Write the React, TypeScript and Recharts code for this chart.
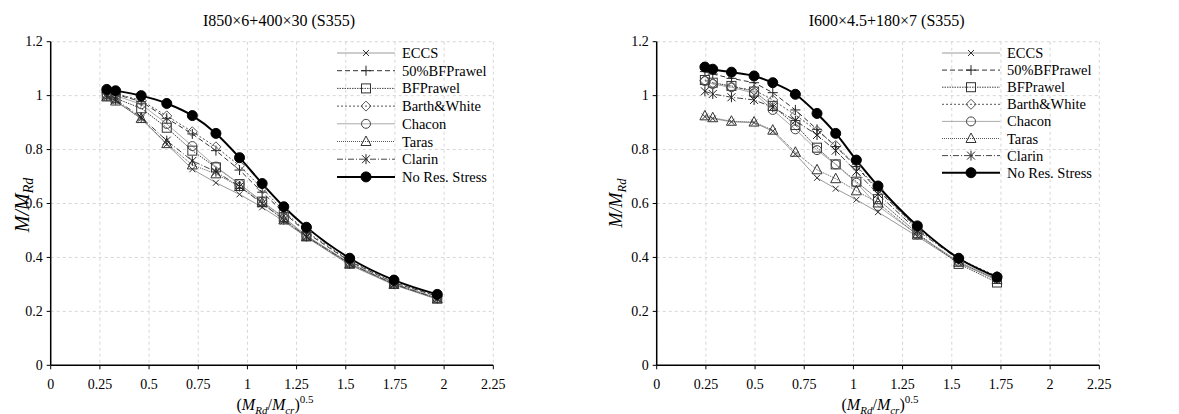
import React from 'react';
import { LineChart, Line, XAxis, YAxis, CartesianGrid, Legend, Label } from 'recharts';

const FONT = '"Liberation Serif", "Times New Roman", serif';

// ---------- data ----------
const SERIES_KEYS = ['eccs', 'bf50', 'bf', 'bw', 'chacon', 'taras', 'clarin', 'nores'];
const SERIES_NAMES = ['ECCS', '50%BFPrawel', 'BFPrawel', 'Barth&White', 'Chacon', 'Taras', 'Clarin', 'No Res. Stress'];

const xTicks = [0, 0.25, 0.5, 0.75, 1, 1.25, 1.5, 1.75, 2, 2.25];
const yTicks = [0, 0.2, 0.4, 0.6, 0.8, 1, 1.2];

// Left chart: I850x6+400x30 (S355)
const leftTitle = 'I850×6+400×30 (S355)';
const leftX = [0.285, 0.33, 0.46, 0.59, 0.72, 0.84, 0.96, 1.075, 1.185, 1.3, 1.52, 1.745, 1.965];
const leftECCS = [0.995, 0.98, 0.915, 0.82, 0.727, 0.677, 0.634, 0.586, 0.534, 0.475, 0.372, 0.298, 0.245];
const leftBF50 = [1.01, 1.005, 0.978, 0.916, 0.858, 0.796, 0.724, 0.642, 0.566, 0.492, 0.385, 0.306, 0.256];
const leftBF = [1.0, 0.99, 0.953, 0.881, 0.796, 0.734, 0.672, 0.607, 0.549, 0.48, 0.378, 0.302, 0.248];
const leftBW = [1.012, 1.008, 0.982, 0.925, 0.866, 0.81, 0.74, 0.656, 0.572, 0.496, 0.387, 0.307, 0.257];
const leftChacon = [1.005, 1.0, 0.968, 0.895, 0.813, 0.737, 0.672, 0.607, 0.546, 0.481, 0.38, 0.303, 0.25];
const leftTaras = [0.995, 0.98, 0.915, 0.822, 0.743, 0.71, 0.663, 0.603, 0.539, 0.476, 0.375, 0.3, 0.246];
const leftClarin = [1.0, 0.985, 0.92, 0.833, 0.758, 0.718, 0.663, 0.6, 0.54, 0.478, 0.377, 0.301, 0.248];
const leftNoRes = [1.023, 1.018, 1.0, 0.971, 0.926, 0.86, 0.77, 0.674, 0.588, 0.512, 0.397, 0.316, 0.263];

// Right chart: I600x4.5+180x7 (S355)
const rightTitle = 'I600×4.5+180×7 (S355)';
const rightX = [0.245, 0.285, 0.38, 0.495, 0.59, 0.705, 0.815, 0.91, 1.015, 1.125, 1.325, 1.535, 1.73];
const rightECCS = [0.922, 0.915, 0.903, 0.9, 0.868, 0.783, 0.695, 0.655, 0.614, 0.568, 0.478, 0.38, 0.315];
const rightBF50 = [1.089, 1.08, 1.064, 1.048, 1.011, 0.947, 0.875, 0.811, 0.737, 0.648, 0.51, 0.395, 0.325];
const rightBF = [1.058, 1.048, 1.036, 1.015, 0.962, 0.891, 0.807, 0.745, 0.681, 0.616, 0.49, 0.376, 0.307];
const rightBW = [1.056, 1.046, 1.031, 1.021, 0.984, 0.928, 0.87, 0.815, 0.74, 0.653, 0.505, 0.395, 0.33];
const rightChacon = [1.054, 1.043, 1.031, 1.009, 0.947, 0.875, 0.798, 0.745, 0.677, 0.591, 0.485, 0.385, 0.32];
const rightTaras = [0.925, 0.918, 0.905, 0.902, 0.872, 0.79, 0.725, 0.692, 0.647, 0.602, 0.483, 0.382, 0.318];
const rightClarin = [1.016, 1.006, 0.994, 0.984, 0.957, 0.907, 0.854, 0.796, 0.718, 0.635, 0.5, 0.392, 0.325];
const rightNoRes = [1.106, 1.098, 1.087, 1.073, 1.048, 1.005, 0.934, 0.86, 0.761, 0.665, 0.517, 0.397, 0.327];

const buildRows = (xs: number[], cols: number[][]) =>
  xs.map((x, i) => {
    const row: Record<string, number> = { x };
    SERIES_KEYS.forEach((k, j) => {
      row[k] = cols[j][i];
    });
    return row;
  });

const leftRows = buildRows(leftX, [leftECCS, leftBF50, leftBF, leftBW, leftChacon, leftTaras, leftClarin, leftNoRes]);
const rightRows = buildRows(rightX, [rightECCS, rightBF50, rightBF, rightBW, rightChacon, rightTaras, rightClarin, rightNoRes]);

// ---------- styles ----------
type SStyle = { stroke: string; width: number; dash?: string; marker: string; mcolor: string; smooth?: boolean };
const STYLES: Record<string, SStyle> = {
  eccs: { stroke: '#9a9a9a', width: 1, marker: 'x', mcolor: '#333' },
  bf50: { stroke: '#333', width: 1, dash: '5 3', marker: 'plus', mcolor: '#222' },
  bf: { stroke: '#444', width: 1, dash: '1.5 1', marker: 'square', mcolor: '#333' },
  bw: { stroke: '#555', width: 1, dash: '2 2', marker: 'diamond', mcolor: '#555' },
  chacon: { stroke: '#aaa', width: 1, marker: 'circle', mcolor: '#444' },
  taras: { stroke: '#555', width: 1, dash: '1 1', marker: 'triangle', mcolor: '#333' },
  clarin: { stroke: '#444', width: 1, dash: '6 2 1 2', marker: 'asterisk', mcolor: '#222' },
  nores: { stroke: '#000', width: 2, marker: 'dot', mcolor: '#000', smooth: true },
};

function Marker({ kind, cx, cy, color }: { kind: string; cx: number; cy: number; color: string }) {
  if (cx == null || cy == null || isNaN(cx) || isNaN(cy)) return null;
  const sw = 1;
  switch (kind) {
    case 'x':
      return (
        <g stroke={color} strokeWidth={sw}>
          <line x1={cx - 3} y1={cy - 3} x2={cx + 3} y2={cy + 3} />
          <line x1={cx - 3} y1={cy + 3} x2={cx + 3} y2={cy - 3} />
        </g>
      );
    case 'plus':
      return (
        <g stroke={color} strokeWidth={sw}>
          <line x1={cx - 5} y1={cy} x2={cx + 5} y2={cy} />
          <line x1={cx} y1={cy - 5} x2={cx} y2={cy + 5} />
        </g>
      );
    case 'square':
      return <rect x={cx - 4.5} y={cy - 4.5} width={9} height={9} fill="none" stroke={color} strokeWidth={sw} />;
    case 'diamond':
      return (
        <polygon
          points={`${cx},${cy - 5} ${cx + 5},${cy} ${cx},${cy + 5} ${cx - 5},${cy}`}
          fill="none"
          stroke={color}
          strokeWidth={sw}
        />
      );
    case 'circle':
      return <circle cx={cx} cy={cy} r={4.5} fill="none" stroke={color} strokeWidth={sw} />;
    case 'triangle':
      return (
        <polygon
          points={`${cx},${cy - 5.5} ${cx + 5},${cy + 4} ${cx - 5},${cy + 4}`}
          fill="none"
          stroke={color}
          strokeWidth={sw}
        />
      );
    case 'asterisk':
      return (
        <g stroke={color} strokeWidth={sw}>
          <line x1={cx - 4} y1={cy - 4} x2={cx + 4} y2={cy + 4} />
          <line x1={cx - 4} y1={cy + 4} x2={cx + 4} y2={cy - 4} />
          <line x1={cx} y1={cy - 5} x2={cx} y2={cy + 5} />
        </g>
      );
    case 'dot':
      return <circle cx={cx} cy={cy} r={5} fill="#000" stroke="#000" />;
    default:
      return null;
  }
}

type Layout = {
  left: number;
  width: number;
  marginLeft: number;
  marginRight: number;
  titleX: number;
  yLabelX: number;
  yLabelY: number;
  yLabelSize: number;
  xLabelX: number;
  legendLeft: number;
  legendRowGap: number;
};

function LegendBox({ rowGap }: { rowGap: number }) {
  return (
    <svg width={170} height={150} style={{ overflow: 'visible', display: 'block' }}>
      {SERIES_KEYS.map((k, i) => {
        const s = STYLES[k];
        const y = 9 + i * rowGap;
        return (
          <g key={k}>
            <line x1={2} y1={y} x2={60} y2={y} stroke={s.stroke} strokeWidth={s.width} strokeDasharray={s.dash} />
            <Marker kind={s.marker} cx={31} cy={y} color={s.mcolor} />
            <text x={67} y={y + 5} fontSize={14.5} fontFamily={FONT} fill="#000">
              {SERIES_NAMES[i]}
            </text>
          </g>
        );
      })}
    </svg>
  );
}

const XTick = (p: any) => (
  <text
    x={p.x}
    y={p.y + 14}
    textAnchor="middle"
    fontSize={14}
    fontFamily={FONT}
    fill="#000"
  >
    {String(p.payload.value)}
  </text>
);

const YTick = (p: any) => (
  <text x={p.x - 1} y={p.y + 4.5} textAnchor="end" fontSize={14} fontFamily={FONT} fill="#000">
    {String(p.payload.value)}
  </text>
);

function Chart({ rows, title, L }: { rows: Record<string, number>[]; title: string; L: Layout }) {
  const axisLine = { stroke: '#000', strokeWidth: 1.5 };
  return (
    <div style={{ position: 'absolute', left: L.left, top: 0, width: L.width, height: 414 }}>
      <svg
        width={L.width}
        height={40}
        style={{ position: 'absolute', left: 0, top: 0, pointerEvents: 'none' }}
      >
        <text x={L.titleX} y={25.5} textAnchor="middle" fontSize={16} fontFamily={FONT} fill="#000">
          {title}
        </text>
      </svg>
      <LineChart
        width={L.width}
        height={414}
        data={rows}
        margin={{ top: 41.7, right: L.marginRight, bottom: 18.7, left: L.marginLeft }}
      >
        <CartesianGrid stroke="#d6d6d6" strokeDasharray="3 3" />
        <XAxis
          type="number"
          dataKey="x"
          domain={[0, 2.25]}
          ticks={xTicks}
          interval={0}
          height={30}
          tickSize={4}
          tickMargin={6}
          axisLine={axisLine}
          tickLine={{ stroke: '#000' }}
          tick={<XTick />}
        >
          <Label
            content={() => (
              <text x={L.xLabelX} y={409.5} textAnchor="middle" fontSize={16} fontFamily={FONT} fill="#000">
                <tspan>(</tspan>
                <tspan fontStyle="italic">M</tspan>
                <tspan fontStyle="italic" fontSize={11} dy={4}>Rd</tspan>
                <tspan dy={-4}>/</tspan>
                <tspan fontStyle="italic">M</tspan>
                <tspan fontStyle="italic" fontSize={11} dy={4}>cr</tspan>
                <tspan dy={-4}>)</tspan>
                <tspan fontSize={11} dy={-7}>0.5</tspan>
              </text>
            )}
          />
        </XAxis>
        <XAxis
          xAxisId="top"
          orientation="top"
          type="number"
          dataKey="x"
          domain={[0, 2.25]}
          ticks={xTicks}
          height={0}
          tick={false}
          tickLine={false}
          axisLine={axisLine}
        />
        <YAxis
          type="number"
          domain={[0, 1.2]}
          ticks={yTicks}
          interval={0}
          width={30}
          tickSize={4}
          tickMargin={3}
          axisLine={axisLine}
          tickLine={{ stroke: '#000' }}
          tick={<YTick />}
        >
          <Label
            content={() => (
              <text
                x={L.yLabelX}
                y={L.yLabelY}
                transform={`rotate(-90, ${L.yLabelX}, ${L.yLabelY})`}
                textAnchor="middle"
                fontSize={L.yLabelSize}
                fontFamily={FONT}
                fill="#000"
              >
                <tspan fontStyle="italic">M/M</tspan>
                <tspan fontStyle="italic" fontSize={L.yLabelSize * 0.7} dy={4}>Rd</tspan>
              </text>
            )}
          />
        </YAxis>
        <YAxis
          yAxisId="right"
          orientation="right"
          type="number"
          domain={[0, 1.2]}
          ticks={yTicks}
          width={0}
          tick={false}
          tickLine={false}
          axisLine={axisLine}
        />
        {SERIES_KEYS.map((k, i) => {
          const s = STYLES[k];
          return (
            <Line
              key={k}
              name={SERIES_NAMES[i]}
              dataKey={k}
              type={s.smooth ? 'monotone' : 'linear'}
              stroke={s.stroke}
              strokeWidth={s.width}
              strokeDasharray={s.dash}
              isAnimationActive={false}
              activeDot={false}
              dot={(p: any) => (
                <g key={`${k}-${p.index}`}>
                  <Marker kind={s.marker} cx={p.cx} cy={p.cy} color={s.mcolor} />
                </g>
              )}
            />
          );
        })}
        <Legend
          layout="vertical"
          align="center"
          verticalAlign="middle"
          content={() => <LegendBox rowGap={L.legendRowGap} />}
          wrapperStyle={{ left: L.legendLeft, top: 44, width: 170, height: 150 }}
        />
      </LineChart>
    </div>
  );
}

const leftLayout: Layout = {
  left: 0,
  width: 590,
  marginLeft: 20.7,
  marginRight: 96.7,
  titleX: 279,
  yLabelX: 29,
  yLabelY: 205,
  yLabelSize: 20,
  xLabelX: 275,
  legendLeft: 335,
  legendRowGap: 17.7,
};

const rightLayout: Layout = {
  left: 590,
  width: 589,
  marginLeft: 36.7,
  marginRight: 79.7,
  titleX: 296.7,
  yLabelX: 32,
  yLabelY: 203,
  yLabelSize: 18,
  xLabelX: 290,
  legendLeft: 349.7,
  legendRowGap: 17.1,
};

export default function App() {
  return (
    <div style={{ position: 'absolute', left: 0, top: 0, width: 1179, height: 414, background: '#fff', fontFamily: FONT }}>
      <Chart rows={leftRows} title={leftTitle} L={leftLayout} />
      <Chart rows={rightRows} title={rightTitle} L={rightLayout} />
    </div>
  );
}
